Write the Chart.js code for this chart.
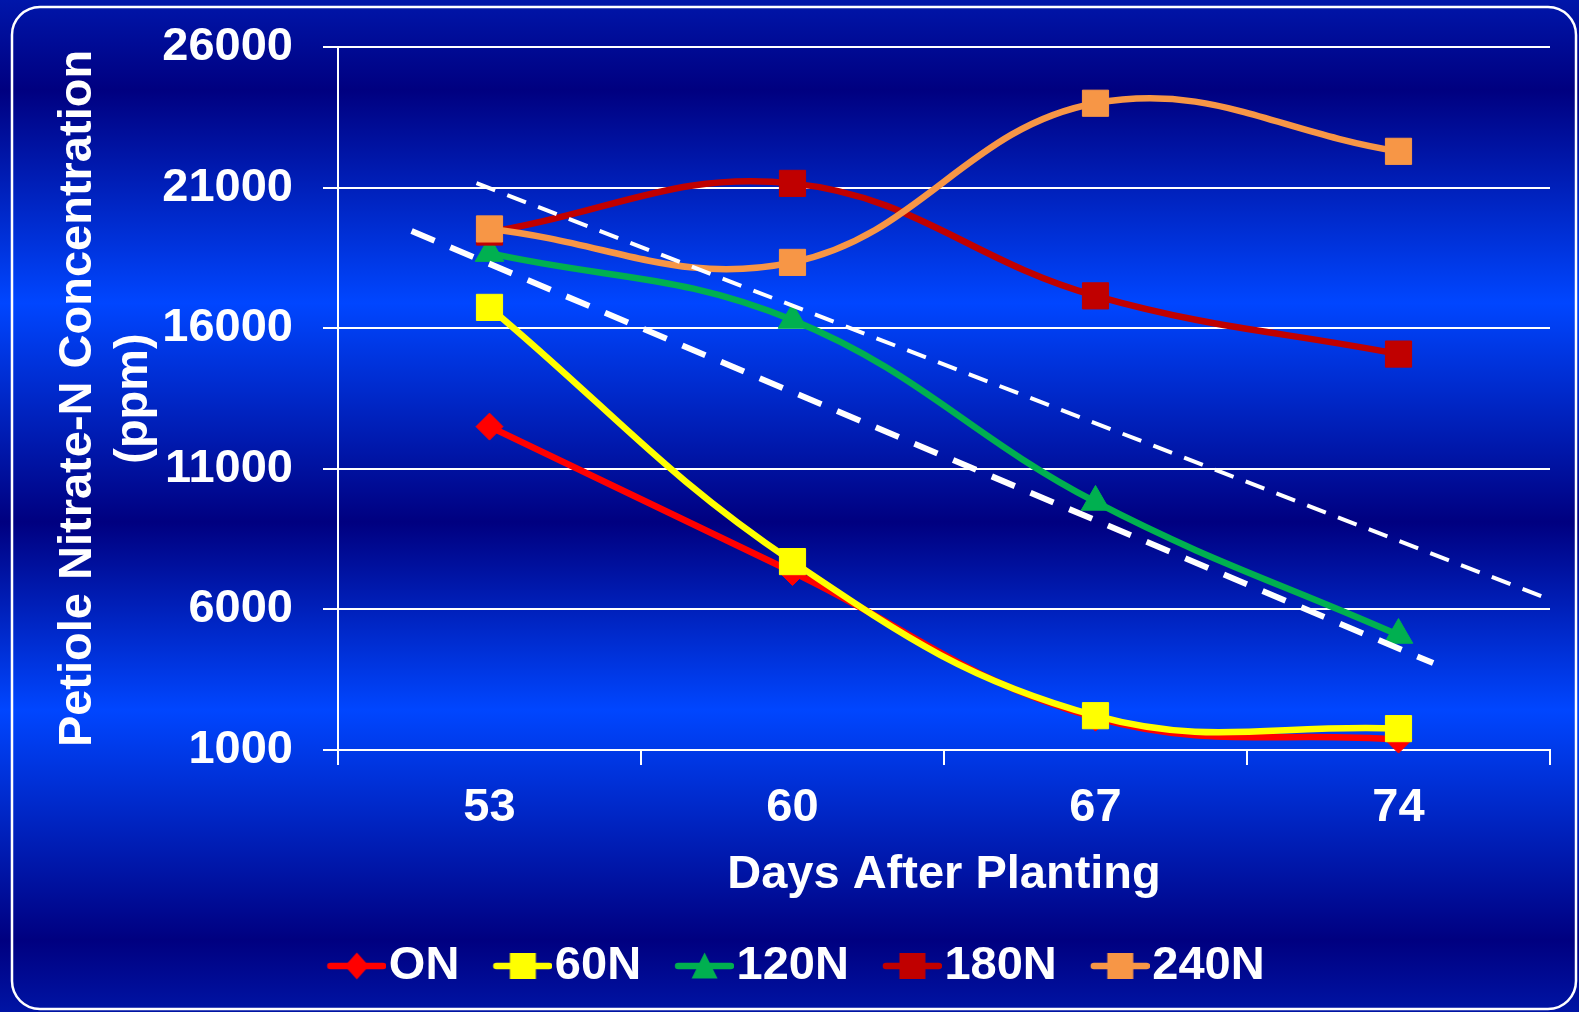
<!DOCTYPE html>
<html>
<head>
<meta charset="utf-8">
<script src="https://cdn.jsdelivr.net/npm/chart.js@4"></script>
<style>
  html, body { margin: 0; padding: 0; background: #000080; }
  #wrap { width: 1579px; height: 1012px; position: relative; }
</style>
</head>
<body>
<div id="wrap"><canvas id="c"></canvas></div>
<script>
// ---- data ----
const days = ['53', '60', '67', '74'];
const seriesNames = ['ON', '60N', '120N', '180N', '240N'];
const valuesON = [12500, 7330, 2150, 1370];
const values60N = [16740, 7700, 2220, 1760];
const values120N = [18670, 16290, 9820, 5090];
const values180N = [19420, 21150, 17150, 15080];
const values240N = [19530, 18340, 24000, 22290];
const upperLineDays = [52.7, 77.4];
const upperLineValues = [21160, 6410];
const lowerLineDays = [51.2, 74.8];
const lowerLineValues = [19460, 4090];
const yTickValues = [1000, 6000, 11000, 16000, 21000, 26000];
const xAxisTitle = 'Days After Planting';
const yAxisTitle = ['Petiole Nitrate-N Concentration', '(ppm)'];

// ---- styles ----
const FONT = { family: "'Liberation Sans', Arial, sans-serif", size: 47, weight: 'bold' };
const colors = ['#ff0000', '#ffff00', '#00b050', '#c00000', '#f79646'];
const shapes = ['diamond', 'square', 'triangle', 'square', 'square'];
const pointStyles = ['rectRot', 'rect', 'triangle', 'rect', 'rect'];
const pointRadii = [13.5, 18.5, 16.5, 18.5, 18.5];
const seriesValues = [valuesON, values60N, values120N, values180N, values240N];

function legendSymbol(color, shape) {
  const c = document.createElement('canvas');
  c.width = 80; c.height = 30;
  const g = c.getContext('2d');
  g.strokeStyle = color; g.lineWidth = 6.5; g.lineCap = 'round';
  g.beginPath(); g.moveTo(24, 15); g.lineTo(77, 15); g.stroke();
  g.fillStyle = color;
  const cx = 50.5, cy = 15;
  g.beginPath();
  if (shape === 'diamond') {
    g.moveTo(cx, cy - 13.5); g.lineTo(cx + 12, cy); g.lineTo(cx, cy + 13.5); g.lineTo(cx - 12, cy);
  } else if (shape === 'square') {
    g.rect(cx - 13, cy - 13, 26, 26);
  } else {
    g.moveTo(cx, cy - 13.5); g.lineTo(cx + 13, cy + 12.5); g.lineTo(cx - 13, cy + 12.5);
  }
  g.closePath(); g.fill();
  return c;
}
const symbols = colors.map((c, i) => legendSymbol(c, shapes[i]));

const datasets = seriesNames.map((name, i) => ({
  label: name,
  data: seriesValues[i],
  xAxisID: 'x',
  yAxisID: 'y',
  borderColor: colors[i],
  backgroundColor: colors[i],
  borderWidth: 6.5,
  tension: 0.4,
  fill: false,
  pointStyle: pointStyles[i],
  pointRadius: pointRadii[i],
  pointHoverRadius: pointRadii[i],
  pointBackgroundColor: colors[i],
  pointBorderColor: colors[i],
  pointBorderWidth: 1,
  order: seriesNames.length - i,
  clip: false,
  isSeries: true
}));

datasets.push({
  label: 'upper',
  data: upperLineDays.map((d, i) => ({ x: d, y: upperLineValues[i] })),
  xAxisID: 'xl', yAxisID: 'y',
  borderColor: '#ffffff', borderWidth: 4, borderDash: [20, 13],
  pointRadius: 0, tension: 0, fill: false, order: 0, clip: false
});
datasets.push({
  label: 'lower',
  data: lowerLineDays.map((d, i) => ({ x: d, y: lowerLineValues[i] })),
  xAxisID: 'xl', yAxisID: 'y',
  borderColor: '#ffffff', borderWidth: 6, borderDash: [25, 17],
  pointRadius: 0, tension: 0, fill: false, order: 0, clip: false
});

const bgPlugin = {
  id: 'bgPlugin',
  beforeDraw(chart) {
    const ctx = chart.ctx, w = chart.width, h = chart.height;
    ctx.save();
    const g = ctx.createLinearGradient(0, 0, 0, h);
    g.addColorStop(0, '#0016aa');
    g.addColorStop(90 / 1012, '#000080');
    g.addColorStop(303 / 1012, '#0046ff');
    g.addColorStop(522 / 1012, '#000080');
    g.addColorStop(710 / 1012, '#0046ff');
    g.addColorStop(940 / 1012, '#000080');
    g.addColorStop(1, '#0014a4');
    ctx.fillStyle = g;
    ctx.fillRect(0, 0, w, h);
    const x0 = 12, y0 = 7, x1 = 1576, y1 = 1009, r = 28;
    ctx.beginPath();
    ctx.moveTo(x0 + r, y0);
    ctx.lineTo(x1 - r, y0);
    ctx.arcTo(x1, y0, x1, y0 + r, r);
    ctx.lineTo(x1, y1 - r);
    ctx.arcTo(x1, y1, x1 - r, y1, r);
    ctx.lineTo(x0 + r, y1);
    ctx.arcTo(x0, y1, x0, y1 - r, r);
    ctx.lineTo(x0, y0 + r);
    ctx.arcTo(x0, y0, x0 + r, y0, r);
    ctx.closePath();
    ctx.strokeStyle = '#ffffff';
    ctx.lineWidth = 2.5;
    ctx.stroke();
    ctx.restore();
  }
};

new Chart(document.getElementById('c'), {
  type: 'line',
  data: { labels: days, datasets },
  plugins: [bgPlugin],
  options: {
    responsive: true,
    maintainAspectRatio: false,
    animation: false,
    layout: { padding: { left: 42, right: 29, top: 47, bottom: 12.5 } },
    plugins: {
      tooltip: { enabled: false },
      legend: {
        position: 'bottom',
        align: 'center',
        onClick: null,
        labels: {
          usePointStyle: true,
          pointStyleWidth: 38,
          padding: 34,
          color: '#ffffff',
          font: FONT,
          generateLabels(chart) {
            return chart.data.datasets
              .map((ds, i) => ({ ds, i }))
              .filter(o => o.ds.isSeries)
              .map(o => ({
                text: o.ds.label,
                pointStyle: symbols[o.i],
                fillStyle: colors[o.i],
                strokeStyle: colors[o.i],
                lineWidth: 0,
                hidden: false,
                datasetIndex: o.i,
                fontColor: '#ffffff'
              }));
          }
        }
      }
    },
    scales: {
      x: {
        type: 'category',
        labels: days,
        offset: true,
        grid: { offset: true, drawOnChartArea: false, drawTicks: true, tickLength: 15, color: '#ffffff', lineWidth: 2 },
        border: { display: true, color: '#ffffff', width: 2 },
        ticks: { color: '#ffffff', font: FONT, padding: 15, maxRotation: 0, autoSkip: false },
        title: { display: true, text: xAxisTitle, color: '#ffffff', font: FONT, padding: { top: 0, bottom: 5 } },
        afterFit(s) { s.height = 158.5; s.paddingLeft = 0; s.paddingRight = 0; }
      },
      xl: { type: 'linear', display: false, min: 49.5, max: 77.5 },
      y: {
        type: 'linear',
        min: 1000,
        max: 26000,
        afterBuildTicks(s) { s.ticks = yTickValues.map(v => ({ value: v })); },
        ticks: { color: '#ffffff', font: FONT, padding: 30, callback: v => String(v) },
        grid: { color: '#ffffff', lineWidth: 2, tickLength: 15 },
        border: { display: true, color: '#ffffff', width: 2 },
        title: { display: true, text: yAxisTitle, color: '#ffffff', font: FONT, padding: { top: 7.5, bottom: 0 } },
        afterFit(s) { s.width = 296; s.paddingTop = 0; s.paddingBottom = 0; }
      }
    }
  }
});
</script>
</body>
</html>
